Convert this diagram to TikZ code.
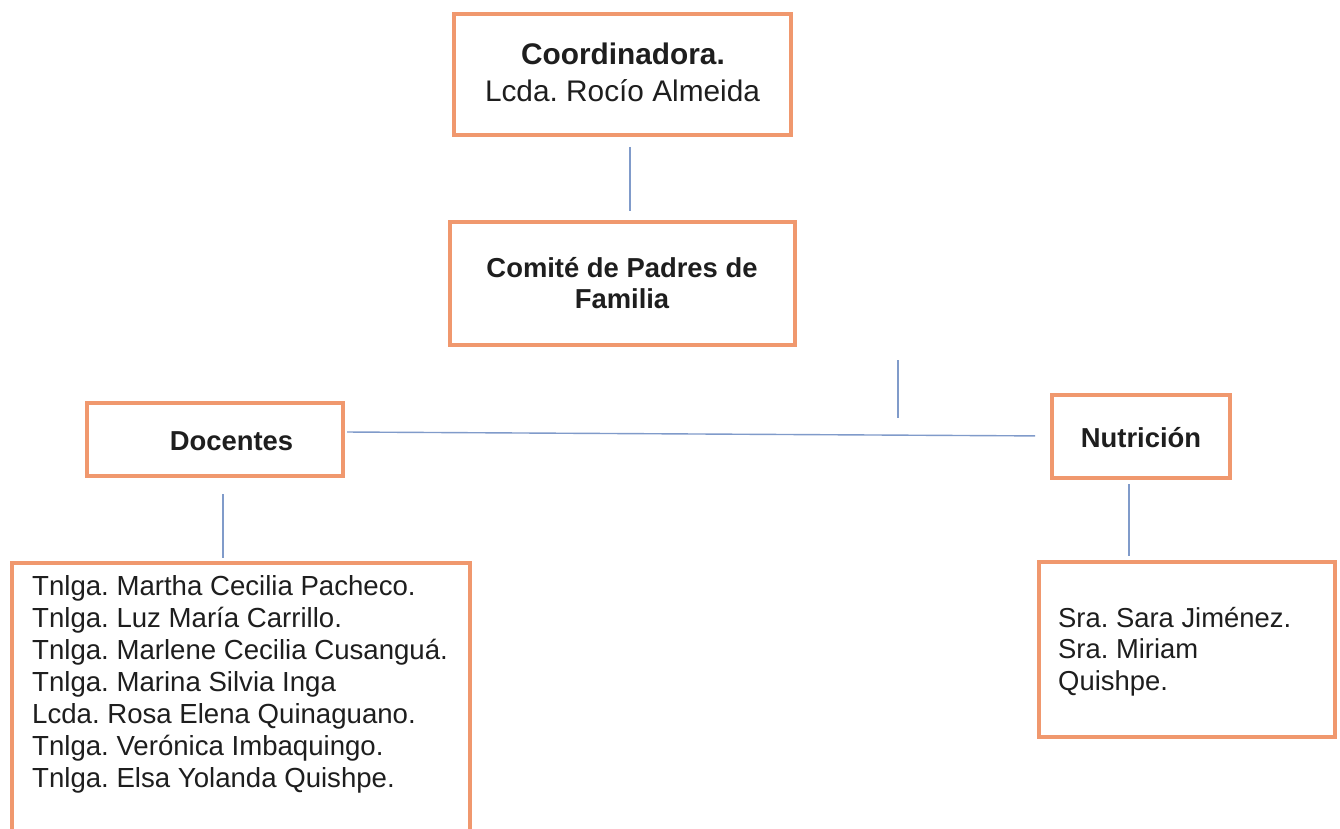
\documentclass[tikz,border=0pt]{standalone}
\usepackage{fontspec}
\setmainfont{Liberation Sans}
\frenchspacing
\definecolor{boxorange}{RGB}{240,152,110}
\definecolor{connblue}{RGB}{128,155,202}
\definecolor{txt}{RGB}{30,30,30}
\begin{document}
\begin{tikzpicture}[x=1pt,y=-1pt,
  orgbox/.style={draw=boxorange,line width=4pt,rectangle,inner sep=0pt,fill=none},
  conn/.style={draw=connblue,line width=1.4pt},
  lbl/.style={inner sep=0pt,text=txt,font=\frenchspacing\fontsize{27.4pt}{32pt}\selectfont},
  lblb/.style={inner sep=0pt,text=txt,font=\frenchspacing\bfseries\fontsize{27.4pt}{32pt}\selectfont},
  listl/.style={inner sep=0pt,text=txt,anchor=base west,font=\frenchspacing\fontsize{27.6pt}{32pt}\selectfont},
  bigl/.style={inner sep=0pt,text=txt,font=\frenchspacing\fontsize{29.8pt}{34pt}\selectfont},
  bigb/.style={inner sep=0pt,text=txt,font=\frenchspacing\bfseries\fontsize{29.8pt}{34pt}\selectfont},
]
\useasboundingbox (0,0) rectangle (1340,829);
\fill[white] (0,0) rectangle (1340,829);
\clip (0,0) rectangle (1340,829);

% boxes
\node[orgbox,minimum width=337pt,minimum height=121pt] (coord) at (622.5,74.5) {};
\node[orgbox,minimum width=345pt,minimum height=123pt] (comite) at (622.5,283.5) {};
\node[orgbox,minimum width=256pt,minimum height=73pt] (docentes) at (215,439.5) {};
\node[orgbox,minimum width=178pt,minimum height=83pt] (nutricion) at (1141,436.5) {};
\node[orgbox,minimum width=458pt,minimum height=307pt] (doclist) at (241,716.5) {};
\node[orgbox,minimum width=296pt,minimum height=175pt] (nutlist) at (1187,649.5) {};

% texts
\node[bigb,anchor=base] (coordA) at (623,65) {Coordinadora.};
\node[bigl,anchor=base] (coordB) at (622.5,102) {Lcda. Rocío Almeida};
\node[lblb,anchor=base] (comiteA) at (622,277) {Comité de Padres de};
\node[lblb,anchor=base] (comiteB) at (622,308) {Familia};
\node[lblb,anchor=base] (docT) at (231.5,450) {Docentes};
\node[lblb,anchor=base] (nutT) at (1141,447) {Nutrición};

\node[listl] (dl1) at (32,595) {Tnlga. Martha Cecilia Pacheco.};
\node[listl] (dl2) at (32,627) {Tnlga. Luz María Carrillo.};
\node[listl] (dl3) at (32,659) {Tnlga. Marlene Cecilia Cusanguá.};
\node[listl] (dl4) at (32,691) {Tnlga. Marina Silvia Inga};
\node[listl] (dl5) at (32,723) {Lcda. Rosa Elena Quinaguano.};
\node[listl] (dl6) at (32,755) {Tnlga. Verónica Imbaquingo.};
\node[listl] (dl7) at (32,787) {Tnlga. Elsa Yolanda Quishpe.};

\node[lbl,anchor=base west] (nl1) at (1058,627) {Sra. Sara Jiménez.};
\node[lbl,anchor=base west] (nl2) at (1058,658.5) {Sra. Miriam};
\node[lbl,anchor=base west] (nl3) at (1058,690) {Quishpe.};

% connectors
\draw[conn,shorten <=10pt,shorten >=9pt] ([xshift=7.5pt]coord.south) -- ([xshift=7.5pt]comite.north);
\coordinate (stubA) at (898,360);
\coordinate (stubB) at (898,418);
\draw[conn] (stubA) -- (stubB);
\draw[conn,shorten <=2pt,shorten >=15pt] ([yshift=7.5pt]docentes.east) -- ([yshift=0.5pt]nutricion.west);
\draw[conn,shorten <=16pt,shorten >=3pt] ([xshift=8pt]docentes.south) -- ([xshift=-18pt]doclist.north);
\draw[conn,shorten <=4pt,shorten >=4pt] ([xshift=-12pt]nutricion.south) -- ([xshift=-58pt]nutlist.north);
\end{tikzpicture}
\end{document}
